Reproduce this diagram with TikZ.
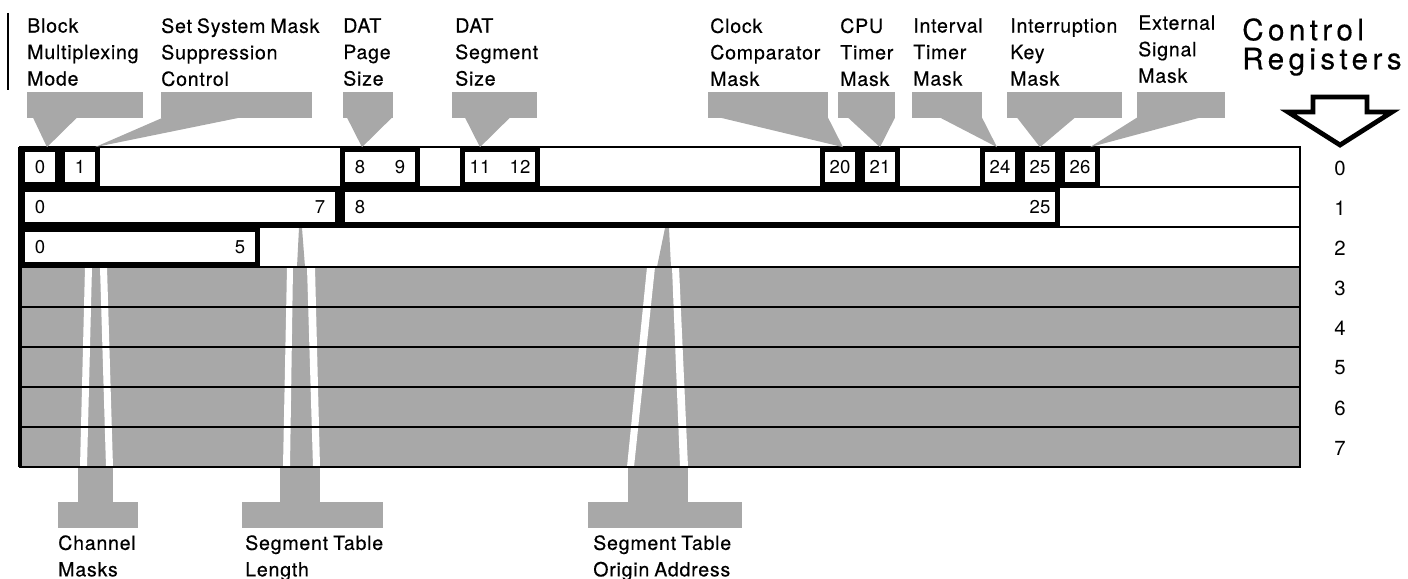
\documentclass[tikz,border=0pt]{standalone}
\usepackage{fontspec}
\setmainfont{TeX Gyre Heros}
\newfontfamily\lblfam{TeX Gyre Heros}[LetterSpace=4,WordSpace=0.8,FakeBold=0.4]
\newfontfamily\regfam{TeX Gyre Heros}[LetterSpace=15,FakeBold=0.4]
\newcommand\lblfont{\lblfam\fontsize{13.9}{18.85}\selectfont}
\newcommand\regfont{\regfam\fontsize{21}{20.6}\selectfont}
\newcommand\numfont{\fontsize{13.2}{15}\selectfont}
\newcommand\rowfont{\fontsize{14.5}{16}\selectfont}
\definecolor{dotgray}{gray}{0.66}
\begin{document}
\begin{tikzpicture}[
  fld/.style={draw, line width=3.2pt, fill=white, inner sep=0pt, minimum height=8.8mm},
  num/.style={font=\numfont, inner sep=0pt},
  rownum/.style={font=\rowfont, inner sep=0pt},
  lbl/.style={font=\lblfont, align=left, anchor=north west, inner sep=0pt},
  dotfill/.style={fill=dotgray},
  whitestrip/.style={fill=white},
  regline/.style={line width=1.5pt}]
\useasboundingbox (0,0) rectangle (35.2,-14.475);
\fill[dotfill] (0.5,-6.675) rectangle (32.5,-11.675);
\fill[whitestrip] (2.125,-6.675) -- (2.3,-6.675) -- (2.175,-11.675) -- (2.0,-11.675) -- cycle;
\fill[whitestrip] (2.5,-6.675) -- (2.675,-6.675) -- (2.825,-11.675) -- (2.65,-11.675) -- cycle;
\fill[whitestrip] (7.175,-6.675) -- (7.325,-6.675) -- (7.25,-11.675) -- (7.075,-11.675) -- cycle;
\fill[whitestrip] (7.675,-6.675) -- (7.875,-6.675) -- (8.0,-11.675) -- (7.825,-11.675) -- cycle;
\fill[whitestrip] (16.175,-6.675) -- (16.375,-6.675) -- (15.85,-11.675) -- (15.675,-11.675) -- cycle;
\fill[whitestrip] (16.8,-6.675) -- (16.975,-6.675) -- (17.2,-11.675) -- (17.0,-11.675) -- cycle;
\fill[dotfill] (7.475,-5.7) -- (7.55,-5.7) -- (7.625,-6.675) -- (7.425,-6.675) -- cycle;
\fill[dotfill] (16.625,-5.7) -- (16.725,-5.7) -- (16.775,-6.675) -- (16.425,-6.675) -- cycle;
\draw[regline] (0.5,-3.675) rectangle (32.5,-11.675);
\draw[regline] (0.5,-4.675) -- (32.5,-4.675);
\draw[regline] (0.5,-5.675) -- (32.5,-5.675);
\draw[regline] (0.5,-6.675) -- (32.5,-6.675);
\draw[regline] (0.5,-7.675) -- (32.5,-7.675);
\draw[regline] (0.5,-8.675) -- (32.5,-8.675);
\draw[regline] (0.5,-9.675) -- (32.5,-9.675);
\draw[regline] (0.5,-10.675) -- (32.5,-10.675);
\draw[line width=2.6pt] (0.5,-3.675) -- (0.5,-11.675);
\node[fld, minimum width=8.8mm] (f0) at (1,-4.175) {};
\node[fld, minimum width=8.8mm] (f1) at (2,-4.175) {};
\node[fld, minimum width=18.8mm] (f8) at (9.5,-4.175) {};
\node[fld, minimum width=18.8mm] (f11) at (12.5,-4.175) {};
\node[fld, minimum width=8.8mm] (f20) at (21,-4.175) {};
\node[fld, minimum width=8.8mm] (f21) at (22,-4.175) {};
\node[fld, minimum width=8.8mm] (f24) at (25,-4.175) {};
\node[fld, minimum width=8.8mm] (f25) at (26,-4.175) {};
\node[fld, minimum width=8.8mm] (f26) at (27,-4.175) {};
\node[fld, minimum width=78.8mm] (g0) at (4.5,-5.175) {};
\node[fld, minimum width=178.8mm] (g8) at (17.5,-5.175) {};
\node[fld, minimum width=58.8mm] (h0) at (3.5,-6.175) {};
\node[num] (n00) at (1,-4.175) {0};
\node[num] (n01) at (2,-4.175) {1};
\node[num] (n08) at (9,-4.175) {8};
\node[num] (n09) at (10,-4.175) {9};
\node[num] (n11) at (12,-4.175) {11};
\node[num] (n12) at (13,-4.175) {12};
\node[num] (n20) at (21,-4.175) {20};
\node[num] (n21) at (22,-4.175) {21};
\node[num] (n24) at (25,-4.175) {24};
\node[num] (n25) at (26,-4.175) {25};
\node[num] (n26) at (27,-4.175) {26};
\node[num] (m00) at (1,-5.175) {0};
\node[num] (m07) at (8,-5.175) {7};
\node[num] (m08) at (9,-5.175) {8};
\node[num] (m25) at (26,-5.175) {25};
\node[num] (k00) at (1,-6.175) {0};
\node[num] (k05) at (6,-6.175) {5};
\fill[dotfill] (0.675,-2.3) rectangle (3.575,-2.95);
\fill[dotfill] (0.825,-2.94) -- (1.925,-2.94) -- ([xshift=1.75mm]f0.north) -- cycle;
\fill[dotfill] (4.025,-2.3) rectangle (7.8,-2.95);
\fill[dotfill] (4.075,-2.94) -- (6.0,-2.94) -- ([xshift=3.75mm]f1.north) -- cycle;
\fill[dotfill] (8.575,-2.3) rectangle (9.825,-2.95);
\fill[dotfill] (8.675,-2.94) -- (9.8,-2.94) -- ([xshift=-4.5mm]f8.north) -- cycle;
\fill[dotfill] (11.3,-2.3) rectangle (13.425,-2.95);
\fill[dotfill] (11.625,-2.94) -- (12.75,-2.94) -- ([xshift=-5mm]f11.north) -- cycle;
\fill[dotfill] (17.7,-2.3) rectangle (20.7,-2.95);
\fill[dotfill] (18.0,-2.94) -- (20.7,-2.94) -- ([xshift=0.75mm]f20.north) -- cycle;
\fill[dotfill] (20.95,-2.3) rectangle (22.375,-2.95);
\fill[dotfill] (21.2,-2.94) -- (22.375,-2.94) -- (f21.north) -- cycle;
\fill[dotfill] (22.8,-2.3) rectangle (24.55,-2.95);
\fill[dotfill] (23.5,-2.94) -- (24.55,-2.94) -- ([xshift=-0.75mm]f24.north) -- cycle;
\fill[dotfill] (25.175,-2.3) rectangle (28.05,-2.95);
\fill[dotfill] (25.425,-2.94) -- (26.875,-2.94) -- (f25.north) -- cycle;
\fill[dotfill] (28.425,-2.3) rectangle (30.625,-2.95);
\fill[dotfill] (28.425,-2.94) -- (30.0,-2.94) -- ([xshift=2.5mm]f26.north) -- cycle;
\node[lbl] (tBlock) at (0.675,-0.45) {Block\\Multiplexing\\Mode};
\node[lbl] (tSsm) at (4.025,-0.45) {Set System Mask\\Suppression\\Control};
\node[lbl] (tPage) at (8.575,-0.45) {DAT\\Page\\Size};
\node[lbl] (tSeg) at (11.375,-0.45) {DAT\\Segment\\Size};
\node[lbl] (tClock) at (17.75,-0.45) {Clock\\Comparator\\Mask};
\node[lbl] (tCpu) at (21.0,-0.45) {CPU\\Timer\\Mask};
\node[lbl] (tIntv) at (22.825,-0.45) {Interval\\Timer\\Mask};
\node[lbl] (tKey) at (25.25,-0.45) {Interruption\\Key\\Mask};
\node[lbl] (tExt) at (28.45,-0.38) {External\\Signal\\Mask};
\fill[dotfill] (1.95,-11.69) rectangle (2.825,-12.56);
\fill[dotfill] (1.45,-12.55) rectangle (3.45,-13.2);
\fill[dotfill] (7.0,-11.69) rectangle (8.0,-12.56);
\fill[dotfill] (6.05,-12.55) rectangle (9.575,-13.2);
\fill[dotfill] (15.7,-11.69) rectangle (17.2,-12.56);
\fill[dotfill] (14.7,-12.55) rectangle (18.55,-13.2);
\node[lbl] (tChan) at (1.45,-13.375) {Channel\\Masks};
\node[lbl] (tLen) at (6.125,-13.375) {Segment Table\\Length};
\node[lbl] (tOrg) at (14.825,-13.375) {Segment Table\\Origin Address};
\node[rownum] (r0) at (33.5,-4.2) {0};
\node[rownum] (r1) at (33.5,-5.2) {1};
\node[rownum] (r2) at (33.5,-6.2) {2};
\node[rownum] (r3) at (33.5,-7.2) {3};
\node[rownum] (r4) at (33.5,-8.2) {4};
\node[rownum] (r5) at (33.5,-9.2) {5};
\node[rownum] (r6) at (33.5,-10.2) {6};
\node[rownum] (r7) at (33.5,-11.2) {7};
\node[font=\regfont, align=left, anchor=north west, inner sep=0pt] (tCR) at (31.05,-0.45) {Control\\Registers};
\draw[line width=3.4pt] (32.825,-2.425) -- (34.175,-2.425) -- (34.175,-2.8) -- (34.8,-2.8) -- (33.5,-3.625) -- (32.2,-2.8) -- (32.825,-2.8) -- cycle;
\draw[line width=1.4pt] (0.2,-0.325) -- (0.2,-2.25);
\end{tikzpicture}
\end{document}
